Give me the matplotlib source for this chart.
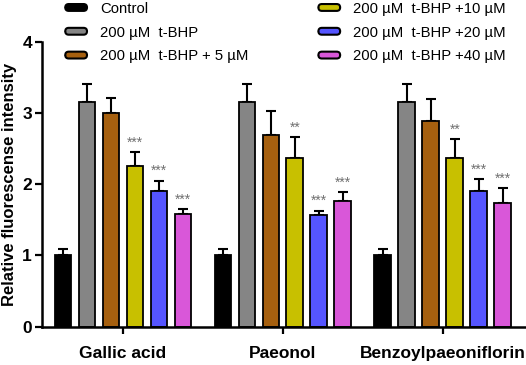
import matplotlib
matplotlib.use("Agg")
import matplotlib.pyplot as plt
import numpy as np
from matplotlib.patches import FancyBboxPatch
from matplotlib.legend_handler import HandlerPatch
from matplotlib.container import BarContainer

plt.rcParams['font.family'] = ['Liberation Sans', 'DejaVu Sans']

groups = ["Gallic acid", "Paeonol", "Benzoylpaeoniflorin"]
series = ["Control", "200 µM  t-BHP", "200 µM  t-BHP + 5 µM",
          "200 µM  t-BHP +10 µM", "200 µM  t-BHP +20 µM", "200 µM  t-BHP +40 µM"]
colors = ["#000000", "#858585", "#a6600f", "#c8c000", "#5555ff", "#d957d9"]

# values[series][group]
values = [
    [1.00, 1.00, 1.00],
    [3.15, 3.15, 3.15],
    [3.00, 2.69, 2.89],
    [2.25, 2.36, 2.36],
    [1.90, 1.56, 1.90],
    [1.58, 1.76, 1.74],
]
errors = [
    [0.09, 0.09, 0.09],
    [0.26, 0.26, 0.26],
    [0.21, 0.33, 0.31],
    [0.20, 0.30, 0.27],
    [0.15, 0.07, 0.17],
    [0.07, 0.13, 0.20],
]
stars = [
    ["", "", ""],
    ["", "", ""],
    ["", "", ""],
    ["***", "**", "**"],
    ["***", "***", "***"],
    ["***", "***", "***"],
]

fig = plt.figure(figsize=(5.26, 3.65), dpi=100)
ax = fig.add_axes([0.0793, 0.105, 0.9207, 0.781])

x = np.arange(len(groups))
step = 0.15
width = 0.105
handles = []
for i, (name, col) in enumerate(zip(series, colors)):
    pos = x + (i - 2.5) * step
    b = ax.bar(pos, values[i], width, color=col, edgecolor="black", linewidth=1.3,
               label=name, zorder=2)
    ax.errorbar(pos, values[i], yerr=[np.zeros(3), errors[i]], fmt="none",
                ecolor="black", elinewidth=1.5, capsize=3.5, capthick=1.5, zorder=1)
    handles.append(b)
    for j in range(len(groups)):
        if stars[i][j]:
            ax.text(pos[j], values[i][j] + errors[i][j] + 0.035, stars[i][j],
                    ha="center", va="bottom", fontsize=10, color="#707070")

ax.set_ylim(0, 4)
ax.set_xlim(-0.508, 2.52)
ax.set_yticks([0, 1, 2, 3, 4])
ax.set_xticks(x)
ax.set_xticklabels(groups, fontsize=12.5, fontweight="bold")
ax.tick_params(axis="x", length=5, width=1.6, pad=9)
ax.tick_params(axis="y", length=5, width=1.6, labelsize=12.5, pad=2)
for lab in ax.get_yticklabels():
    lab.set_fontweight("bold")
for s in ["top", "right"]:
    ax.spines[s].set_visible(False)
for s in ["left", "bottom"]:
    ax.spines[s].set_linewidth(1.8)
ax.set_ylabel("Relative fluorescense intensity", fontsize=12, fontweight="bold", labelpad=4)


class RoundHandler(HandlerPatch):
    def create_artists(self, legend, orig_handle, xdescent, ydescent, width, height, fontsize, trans):
        p = FancyBboxPatch((-xdescent + 1, -ydescent + 1), width - 2, height - 2,
                           boxstyle="round,pad=0,rounding_size=2.5",
                           facecolor=orig_handle.patches[0].get_facecolor(),
                           edgecolor="black", linewidth=1.5, transform=trans)
        return [p]


leg = fig.legend(handles, series, loc="upper left", bbox_to_anchor=(0.096, 1.032), ncol=2,
                 frameon=False, fontsize=10.7, handlelength=1.65, handleheight=0.62,
                 handletextpad=0.8, columnspacing=4.6, labelspacing=0.66,
                 handler_map={BarContainer: RoundHandler()})

fig.savefig("out.png", dpi=100)
